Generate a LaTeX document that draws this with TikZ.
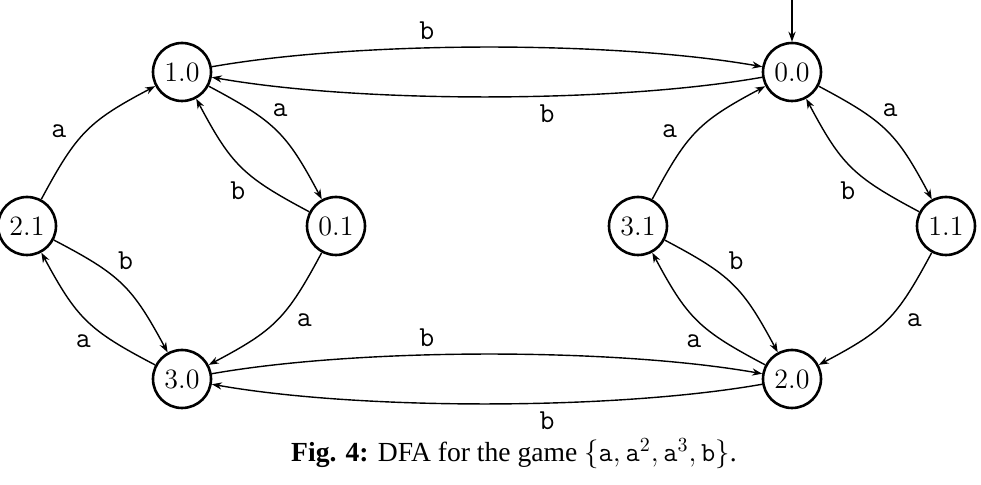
\documentclass[tikz,border=0pt]{standalone}
\usepackage{fontspec}
\newfontfamily\capfont{Liberation Serif}
\usetikzlibrary{arrows.meta}
\begin{document}
\begin{tikzpicture}[x=0.5pt,y=-0.5pt,
  state/.style={circle,draw,line width=1.3pt,minimum size=29pt,inner sep=0pt,font=\fontsize{14}{17}\selectfont},
  edge/.style={line width=0.7pt,-{Stealth[length=5pt,width=3.6pt]}},
  flat/.style={bend left=10,looseness=0.7},
  diag/.style={bend left=17,looseness=1.2},
  lbl/.style={font=\fontsize{14.5}{17}\selectfont\ttfamily,auto,inner sep=2.5pt},
  slbl/.style={lbl,inner sep=3.5pt,pos=0.36},
  hlbl/.style={lbl,inner sep=4pt,pos=0.4}]
\useasboundingbox (0,0) rectangle (981,485);
\node[state] (s10) at (182,72) {1.0};
\node[state] (s00) at (792,72) {0.0};
\node[state] (s21) at (27,226) {2.1};
\node[state] (s01) at (336,226) {0.1};
\node[state] (s31) at (638,226) {3.1};
\node[state] (s11) at (946,226) {1.1};
\node[state] (s30) at (182,379) {3.0};
\node[state] (s20) at (792,379) {2.0};
\coordinate (init) at (792,0);
\draw[edge] (init) -- (s00);
% top
\draw[edge] (s10) to[flat] node[hlbl] {b} (s00);
\draw[edge] (s00) to[flat] node[hlbl] {b} (s10);
% bottom
\draw[edge] (s30) to[flat] node[hlbl] {b} (s20);
\draw[edge] (s20) to[flat] node[hlbl] {b} (s30);
% left group
\draw[edge] (s21) to[diag] node[slbl] {a} (s10);
\draw[edge] (s10) to[diag] node[lbl,pos=0.4] {a} (s01);
\draw[edge] (s01) to[diag] node[lbl,pos=0.4] {b} (s10);
\draw[edge] (s21) to[diag] node[lbl,pos=0.4] {b} (s30);
\draw[edge] (s30) to[diag] node[lbl,pos=0.4] {a} (s21);
\draw[edge] (s01) to[diag] node[slbl] {a} (s30);
% right group
\draw[edge] (s31) to[diag] node[slbl] {a} (s00);
\draw[edge] (s00) to[diag] node[lbl,pos=0.4] {a} (s11);
\draw[edge] (s11) to[diag] node[lbl,pos=0.4] {b} (s00);
\draw[edge] (s31) to[diag] node[lbl,pos=0.4] {b} (s20);
\draw[edge] (s20) to[diag] node[lbl,pos=0.4] {a} (s31);
\draw[edge] (s11) to[diag] node[slbl] {a} (s20);
\node[font=\capfont\fontsize{13.8}{16}\selectfont,anchor=base] (cap) at (514,462) {\textbf{Fig. 4:} DFA for the game $\{\mathtt{a},\mathtt{a}^2,\mathtt{a}^3,\mathtt{b}\}$.};
\end{tikzpicture}
\end{document}
